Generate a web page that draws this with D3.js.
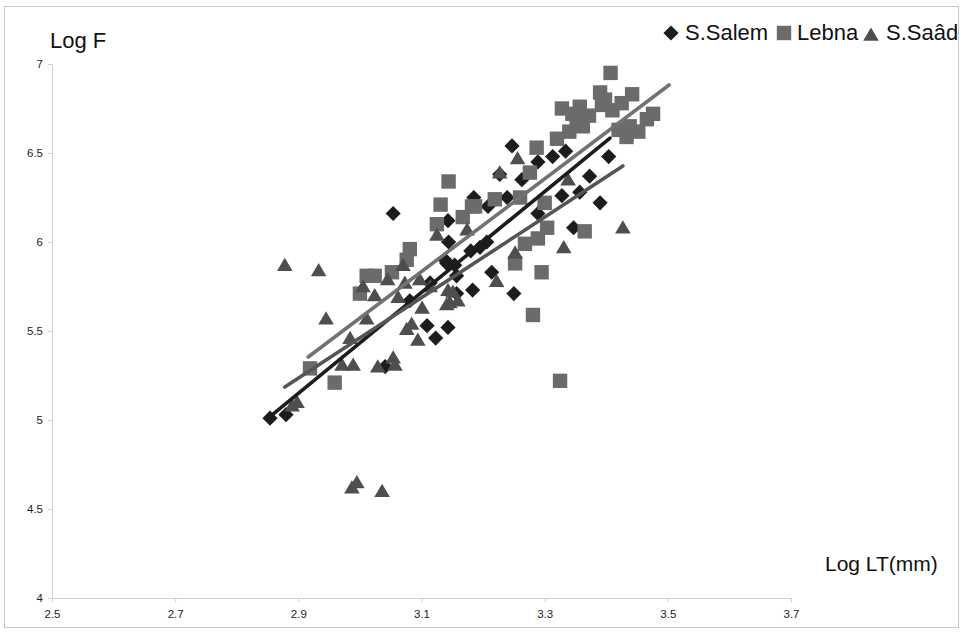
<!DOCTYPE html>
<html><head><meta charset="utf-8">
<script src="https://cdn.jsdelivr.net/npm/d3@7"></script>
<style>
html,body{margin:0;padding:0;background:#fff;}
svg{display:block;font-family:"Liberation Sans",Arial,sans-serif;}
</style></head>
<body>
<svg id="c" width="964" height="634"></svg>
<script>
// ---- data ----
const seriesNames = ["S.Salem", "Lebna", "S.Saâd"];
const xTicks = [2.5, 2.7, 2.9, 3.1, 3.3, 3.5, 3.7];
const yTicks = [4, 4.5, 5, 5.5, 6, 6.5, 7];

const salem = [
 [2.854,5.01],[2.880,5.03],[3.054,6.16],[3.143,6.12],[3.144,6.00],[3.185,6.25],[3.154,5.87],
 [3.247,6.54],[3.313,6.48],[3.334,6.51],[3.289,6.45],[3.227,6.38],[3.263,6.35],[3.373,6.37],
 [3.328,6.26],[3.357,6.28],[3.390,6.22],[3.239,6.25],[3.289,6.16],[3.208,6.20],[3.404,6.48],
 [3.347,6.08],[3.214,5.83],[3.183,5.73],[3.250,5.71],[3.109,5.53],[3.143,5.52],[3.123,5.46],
 [3.041,5.30],[3.206,6.00],[3.081,5.67],[3.114,5.77],[3.141,5.88],[3.157,5.71],[3.138,5.90],
 [3.157,5.81],[3.195,5.97],[3.180,5.95]
];
const lebna = [
 [3.407,6.95],[3.390,6.84],[3.442,6.83],[3.393,6.77],[3.425,6.78],[3.476,6.72],[3.466,6.69],
 [3.328,6.75],[3.357,6.76],[3.352,6.69],[3.362,6.65],[3.438,6.65],[3.433,6.59],[3.320,6.58],
 [3.287,6.53],[3.276,6.39],[3.144,6.34],[3.219,6.24],[3.182,6.20],[3.260,6.25],[3.300,6.22],
 [3.304,6.08],[3.289,6.02],[3.365,6.06],[3.268,5.99],[3.252,5.88],[3.295,5.83],[3.281,5.59],
 [3.325,5.22],[3.131,6.21],[3.125,6.10],[3.167,6.14],[3.187,6.20],[3.081,5.96],[3.076,5.90],
 [3.011,5.81],[3.024,5.81],[3.000,5.71],[3.052,5.83],[2.959,5.21],[2.919,5.29],
 [3.345,6.72],[3.372,6.71],[3.410,6.74],[3.420,6.63],[3.452,6.62],[3.340,6.62],[3.398,6.80]
];
const saad = [
 [2.878,5.87],[2.933,5.84],[2.945,5.57],[2.898,5.10],[2.890,5.08],
 [2.987,4.62],[2.995,4.65],[3.036,4.60],
 [2.984,5.46],[2.971,5.31],[2.989,5.31],[3.029,5.30],[3.054,5.35],[3.057,5.31],
 [3.076,5.51],[3.084,5.54],[3.094,5.45],[3.101,5.63],[3.141,5.65],[3.070,5.87],[3.045,5.79],
 [3.005,5.75],[3.024,5.70],[3.011,5.57],[3.062,5.69],[3.073,5.77],[3.097,5.79],[3.143,5.73],
 [3.125,6.04],[3.256,6.47],[3.227,6.39],[3.338,6.35],[3.427,6.08],[3.331,5.97],[3.252,5.94],
 [3.222,5.78],[3.159,5.67],[3.146,5.66],[3.114,5.75],[3.151,5.72],[3.174,6.07]
];
// trend lines: [x start, y start, x end, y end]
const trendSalem = [2.851, 5.011, 3.406, 6.584];
const trendLebna = [2.916, 5.354, 3.502, 6.882];
const trendSaad  = [2.878, 5.185, 3.427, 6.427];

// ---- drawing ----
const svg = d3.select("#c");
const colors = {marker:["#1c1c1c","#6b6b6b","#4e4e4e"], line:["#1c1c1c","#727272","#555555"]};

// frame
svg.append("rect").attr("x",4.5).attr("y",6.5).attr("width",954).attr("height",621)
  .attr("fill","none").attr("stroke","#c8c8c8").attr("stroke-width",1);

const x = d3.scaleLinear().domain([2.5,3.7]).range([52,791]);
const y = d3.scaleLinear().domain([4,7]).range([598,64]);

const gx = svg.append("g").attr("transform","translate(0,598)")
  .call(d3.axisBottom(x).tickValues(xTicks).tickFormat(d3.format(".1f")).tickSize(4).tickSizeOuter(0));
const gy = svg.append("g").attr("transform","translate(52,0)")
  .call(d3.axisLeft(y).tickValues(yTicks).tickFormat(d=>String(d)).tickSize(4).tickSizeOuter(0));
[gx,gy].forEach(g=>{
  g.select(".domain").attr("stroke","#cfcfcf");
  g.selectAll(".tick line").attr("stroke","#cfcfcf");
  g.selectAll(".tick text").attr("fill","#222").style("font-size","11.5px")
   .style("font-family","'Liberation Sans Narrow','Liberation Sans',Arial,sans-serif");
});
gx.selectAll(".tick text").attr("dy","1.1em");
gy.selectAll(".tick text").attr("dx","-2");

// symbols
const diamondPath = s => `M0,${-s}L${s},0L0,${s}L${-s},0Z`;
const squarePath = s => `M${-s},${-s}H${s}V${s}H${-s}Z`;
const triPath = s => `M0,${-s*0.95}L${s},${s*0.75}L${-s},${s*0.75}Z`;
const shapes = [()=>diamondPath(7.6), ()=>squarePath(7.2), ()=>triPath(7.8)];

[salem, lebna, saad].forEach((data,i)=>{
  svg.append("g").selectAll("path").data(data).join("path")
    .attr("transform",d=>`translate(${x(d[0])},${y(d[1])})`)
    .attr("d",shapes[i]())
    .attr("fill",colors.marker[i]);
});

// trendlines
[trendSalem, trendLebna, trendSaad].forEach((t,i)=>{
  svg.append("line")
    .attr("x1",x(t[0])).attr("y1",y(t[1])).attr("x2",x(t[2])).attr("y2",y(t[3]))
    .attr("stroke",colors.line[i]).attr("stroke-width",3.6).attr("stroke-linecap","round");
});

// axis titles
svg.append("text").attr("x",50).attr("y",48).text("Log F")
  .style("font-size","22px").attr("fill","#111");
svg.append("text").attr("x",825).attr("y",571).text("Log LT(mm)")
  .style("font-size","21px").attr("fill","#111");

// legend
const leg = svg.append("g");
const legItems = [
  {sx:671, tx:685},
  {sx:784, tx:797},
  {sx:871, tx:886}
];
legItems.forEach((it,i)=>{
  leg.append("path").attr("transform",`translate(${it.sx},${i===2?35:33})`)
    .attr("d",shapes[i]()).attr("fill",colors.marker[i]);
  leg.append("text").attr("x",it.tx).attr("y",40).text(seriesNames[i])
    .style("font-size","22px").attr("fill","#111");
});
</script>
</body></html>
